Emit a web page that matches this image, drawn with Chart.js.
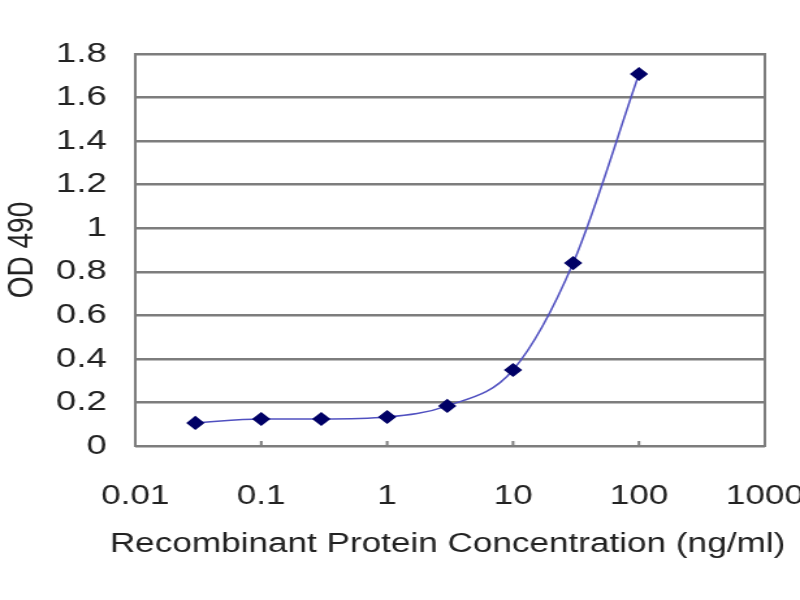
<!DOCTYPE html>
<html>
<head>
<meta charset="utf-8">
<script src="https://cdn.jsdelivr.net/npm/chart.js@4/dist/chart.umd.min.js"></script>
<style>
  html, body { margin: 0; padding: 0; background: #fff; }
  /* the original picture is stretched sideways, so the canvas is drawn narrow and widened */
  #elisa { display: block; width: 800px; height: 600px; }
</style>
</head>
<body>
<canvas id="elisa" width="615" height="600" style="width:800px;height:600px"></canvas>
<script>
// values
const concentrations = [0.03, 0.1, 0.3, 1, 3, 10, 30, 100];
const od490 = [0.106, 0.124, 0.124, 0.133, 0.184, 0.349, 0.84, 1.708];
const xTickValues = [0.01, 0.1, 1, 10, 100, 1000];
const xTickLabels = ["0.01", "0.1", "1", "10", "100", "1000"];
const yTickValues = [0, 0.2, 0.4, 0.6, 0.8, 1, 1.2, 1.4, 1.6, 1.8];
const xTitel = "Recombinant Protein Concentration (ng/ml)";

const FONT = "'Liberation Sans', Arial, sans-serif";
const GRIJS = "#7d7d7d";

// kader rond het plotvlak, kleine streepjes op de x-as en de x-titel
// (de titel is breder dan het plotvlak, Chart.js zou hem samendrukken)
const kader = {
  id: "kader",
  afterDraw(chart) {
    const { ctx, chartArea: a } = chart;
    ctx.save();
    ctx.strokeStyle = GRIJS;
    ctx.lineWidth = 2;
    ctx.strokeRect(a.left, a.top, a.right - a.left, a.bottom - a.top);
    const xs = chart.scales.x;
    xTickValues.forEach(v => {
      const px = xs.getPixelForValue(v);
      ctx.beginPath();
      ctx.moveTo(px, a.bottom);
      ctx.lineTo(px, a.bottom - 5);
      ctx.stroke();
    });
    ctx.fillStyle = "#222";
    ctx.font = `27px ${FONT}`;
    ctx.textAlign = "center";
    ctx.textBaseline = "middle";
    ctx.fillText(xTitel, (a.left + a.right) / 2 - 2, 545);
    ctx.restore();
  }
};

new Chart(document.getElementById("elisa"), {
  type: "line",
  data: {
    datasets: [{
      data: concentrations.map((c, i) => ({ x: c, y: od490[i] })),
      borderColor: "#5050c0",
      borderWidth: 1.5,
      pointStyle: "rectRot",
      pointRadius: 6,
      pointBackgroundColor: "#000066",
      pointBorderColor: "#000066",
      tension: 0.4,
      cubicInterpolationMode: "monotone"
    }]
  },
  options: {
    responsive: false,
    animation: false,
    devicePixelRatio: 1,
    layout: { padding: { left: 0, right: 0, top: 54, bottom: 34 } },
    plugins: { legend: { display: false }, tooltip: { enabled: false } },
    scales: {
      x: {
        type: "logarithmic",
        min: 0.01,
        max: 1000,
        afterBuildTicks(scale) {
          scale.ticks = xTickValues.map(v => ({ value: v }));
        },
        afterFit(scale) {
          scale.height = 120;
          scale.paddingRight = 27;
        },
        ticks: {
          color: "#222",
          font: { family: FONT, size: 27 },
          padding: 26,
          autoSkip: false,
          maxRotation: 0,
          callback: (v) => xTickLabels[xTickValues.indexOf(v)] ?? ""
        },
        grid: { display: false },
        border: { display: false },
        title: { display: false }
      },
      y: {
        min: 0,
        max: 1.8,
        afterBuildTicks(scale) {
          scale.ticks = yTickValues.map(v => ({ value: v }));
        },
        afterFit(scale) {
          scale.width = 104;
        },
        ticks: {
          color: "#222",
          font: { family: FONT, size: 28 },
          padding: 22,
          callback: (v) => String(Math.round(v * 10) / 10)
        },
        grid: { color: GRIJS, lineWidth: 2.5, drawTicks: false },
        border: { display: false },
        title: {
          display: true,
          text: "OD 490",
          color: "#222",
          font: { family: FONT, size: 28 },
          padding: { top: 0, bottom: 0 }
        }
      }
    }
  },
  plugins: [kader]
});
</script>
</body>
</html>
